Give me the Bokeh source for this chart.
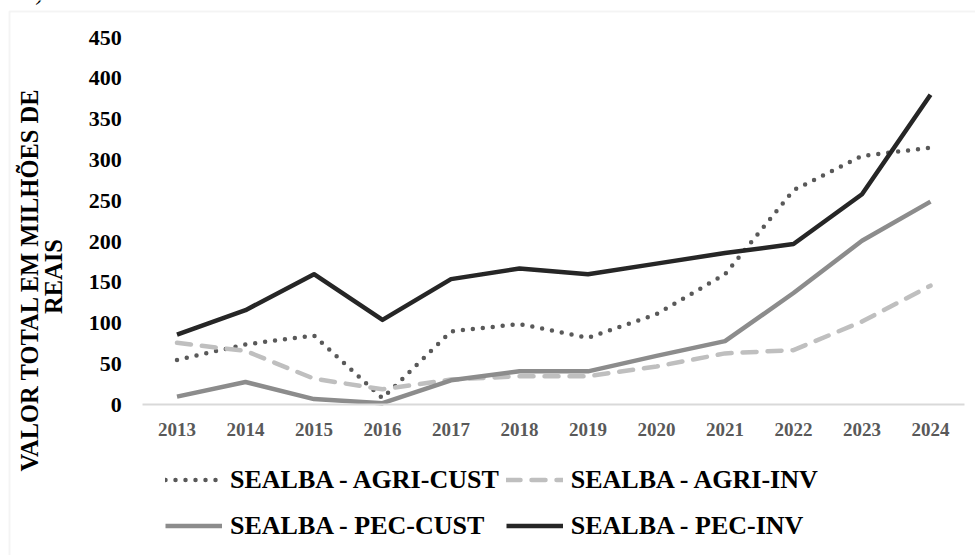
import math
from bokeh.plotting import figure
from bokeh.models import Range1d, Legend, LegendItem, FixedTicker, Label, BoxAnnotation, BasicTickFormatter
from bokeh.embed import file_html
from bokeh.resources import INLINE

years = [2013, 2014, 2015, 2016, 2017, 2018, 2019, 2020, 2021, 2022, 2023, 2024]
agri_cust = [55, 74, 85, 8, 90, 99, 82, 111, 160, 263, 305, 315]
agri_inv = [76, 66, 32, 19, 31, 35, 35, 47, 63, 67, 102, 146]
pec_cust = [10, 28, 7, 2, 30, 41, 41, 60, 78, 137, 201, 249]
pec_inv = [86, 116, 160, 104, 154, 167, 160, 173, 186, 197, 258, 380]
y_ticks = [0, 50, 100, 150, 200, 250, 300, 350, 400, 450]
series_names = ["SEALBA - AGRI-CUST", "SEALBA - AGRI-INV", "SEALBA - PEC-CUST", "SEALBA - PEC-INV"]
y_title = ["VALOR TOTAL  EM MILHÕES DE", "REAIS"]
panel_tag = "a)"

FONT = "Liberation Serif"
FONT_LEGEND = "serif"
FONT_LABEL = "Times"
BORDER = "#d9d9d9"
W, H = 975, 555

# pixel layout of the plotting area (the whole canvas is the frame)
X_FIRST_PX, STEP_PX = 176.5, 68.5        # centre of first year, px per year
Y_ZERO_PX, PX_PER_UNIT = 404.3, 0.816    # y pixel of value 0 (from top), px per unit

x0 = years[0] - X_FIRST_PX / STEP_PX
x1 = years[0] + (W - X_FIRST_PX) / STEP_PX
y0 = -(H - Y_ZERO_PX) / PX_PER_UNIT
y1 = Y_ZERO_PX / PX_PER_UNIT

p = figure(width=W, height=H, x_range=Range1d(x0, x1), y_range=Range1d(y0, y1),
           output_backend="svg", toolbar_location=None,
           min_border=0, min_border_left=0, min_border_right=0, min_border_top=0, min_border_bottom=0)
p.outline_line_color = None
p.grid.visible = False
p.background_fill_color = "white"
p.border_fill_color = "white"

half = 0.5
xa = p.xaxis[0]
xa.fixed_location = 0
xa.bounds = (years[0] - half, years[-1] + half)
xa.ticker = FixedTicker(ticks=years)
xa.formatter = BasicTickFormatter(use_scientific=False)
xa.axis_line_color = BORDER
xa.axis_line_width = 2
xa.major_tick_line_color = None
xa.minor_tick_line_color = None
xa.major_label_text_font = FONT
xa.major_label_text_font_style = "bold"
xa.major_label_text_font_size = "19px"
xa.major_label_text_color = "#595959"
xa.major_label_standoff = 12

ya = p.yaxis[0]
ya.fixed_location = years[0] - half
ya.bounds = (y_ticks[0], y_ticks[-1])
ya.ticker = FixedTicker(ticks=y_ticks)
ya.axis_line_color = None
ya.major_tick_line_color = None
ya.minor_tick_line_color = None
ya.major_label_text_font = FONT
ya.major_label_text_font_style = "bold"
ya.major_label_text_font_size = "22px"
ya.major_label_text_color = "black"
ya.major_label_standoff = 15

r1 = p.line(years, agri_cust, line_color="#595959", line_width=4.5, line_dash="0 10", line_cap="round")
r2 = p.line(years, agri_inv, line_color="#bfbfbf", line_width=4.5, line_dash="14 11", line_cap="round")
r3 = p.line(years, pec_cust, line_color="#8c8c8c", line_width=4.5, line_join="round")
r4 = p.line(years, pec_inv, line_color="#262626", line_width=4.5, line_join="round")

legend = Legend(items=[LegendItem(label=n, renderers=[r]) for n, r in zip(series_names, [r1, r2, r3, r4])],
                ncols=2, orientation="horizontal", location=(165, 10))
legend.label_text_font = FONT_LEGEND
legend.label_text_font_style = "bold"
legend.label_text_font_size = "26px"
legend.label_text_color = "black"
legend.glyph_width = 57
legend.glyph_height = 39
legend.label_height = 39
legend.label_standoff = 8
legend.spacing = 7
legend.padding = 0
legend.margin = 0
legend.border_line_alpha = 0
legend.background_fill_alpha = 0
p.add_layout(legend)

for txt, cx in zip(y_title, [29, 53]):
    p.add_layout(Label(x=cx, y=H - 276, x_units="screen", y_units="screen", text=txt,
                       angle=math.pi / 2, text_align="center", text_baseline="middle",
                       text_font=FONT_LABEL, text_font_style="bold", text_font_size="24.5px",
                       text_color="black"))

p.add_layout(Label(x=24, y=H + 9, x_units="screen", y_units="screen", text=panel_tag,
                   text_align="left", text_baseline="alphabetic",
                   text_font=FONT_LABEL, text_font_size="24px", text_color="black"))

p.add_layout(BoxAnnotation(left=9, right=W + 50, top=H - 11, bottom=-50,
                           left_units="screen", right_units="screen",
                           top_units="screen", bottom_units="screen",
                           fill_alpha=0, line_color=BORDER, line_width=2))

open("out.html", "w").write(file_html(p, INLINE))
